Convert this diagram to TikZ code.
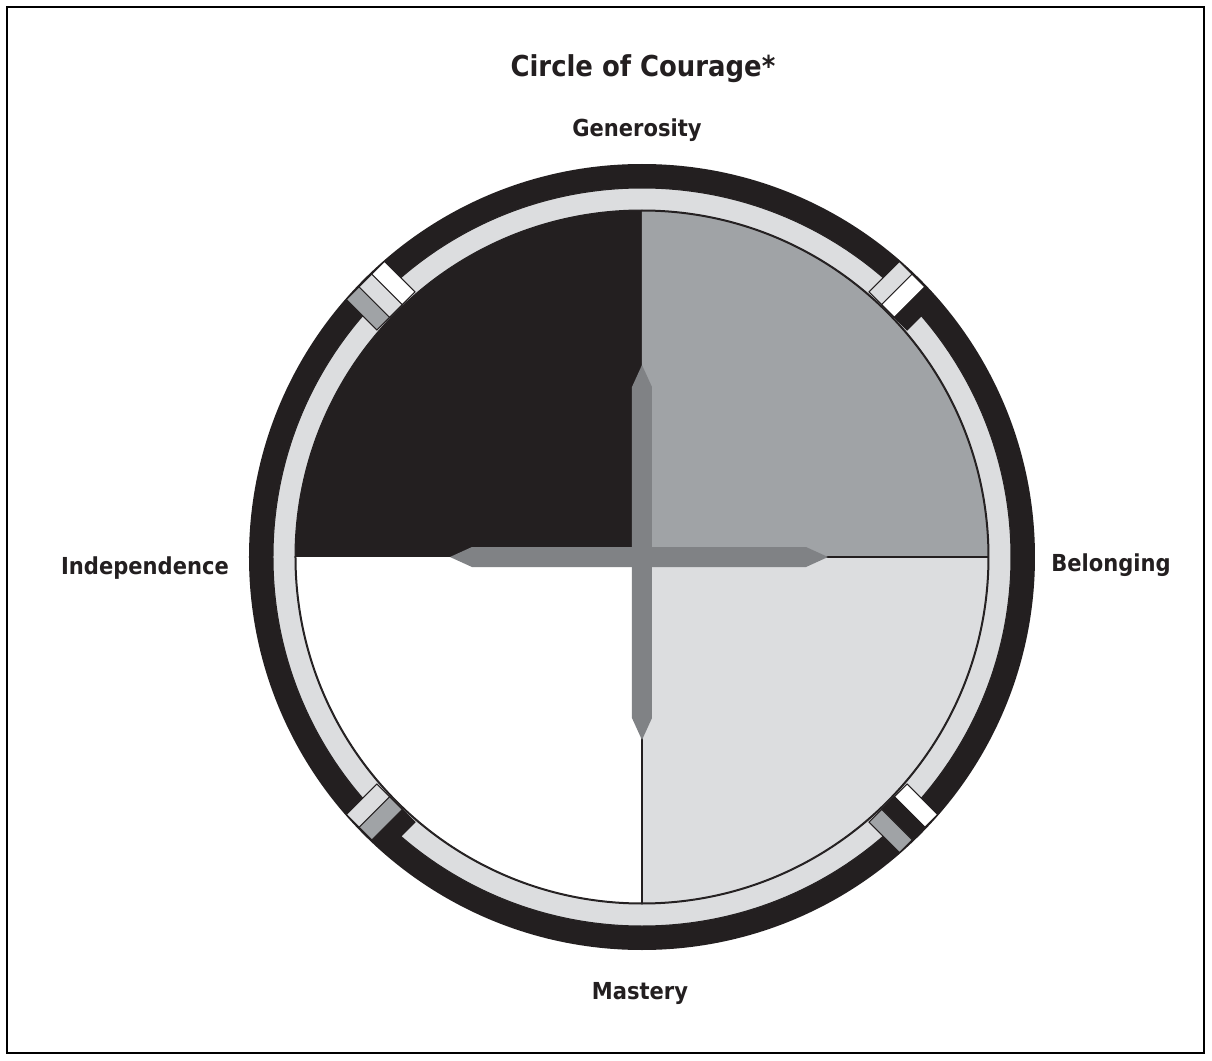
\documentclass[tikz,border=0pt]{standalone}
\usepackage{fontspec}
\newfontfamily\couragefont{DejaVu Sans Condensed}
\usepackage{xcolor}
\definecolor{cblack}{HTML}{231F20}
\definecolor{cgray}{HTML}{A0A3A6}
\definecolor{clight}{HTML}{DCDDDF}
\definecolor{ccross}{HTML}{808285}

\begin{document}
\begin{tikzpicture}[
    x=0.5pt, y=0.5pt,
    heading/.style={
        font=\couragefont\bfseries\fontsize{14.4}{17}\selectfont,
        text=cblack,
        inner sep=0pt,
        anchor=base
    },
    compass/.style={
        font=\couragefont\bfseries\fontsize{11.7}{14}\selectfont,
        text=cblack,
        inner sep=0pt,
        anchor=base
    },
    thinline/.style={draw=cblack, line width=0.5pt},
    divider/.style={draw=cblack, line width=1pt},
    block/.style={thinline}
]
    \useasboundingbox (-642,-504) rectangle (570,557);
    \draw[line width=0.6pt] (-635,-496) rectangle (562,550);

    \node[heading] (title) at (1,480) {Circle of Courage*};
    \node[compass] (gen) at (-5,420) {Generosity};
    \node[compass] (bel) at (469,-14) {Belonging};
    \node[compass] (mas) at (-2,-442) {Mastery};
    \node[compass] (ind) at (-497,-17) {Independence};

    \fill[cblack] (0,0) circle[radius=393];
    \filldraw[fill=clight, thinline, even odd rule]
        (0,0) circle[radius=369] (0,0) circle[radius=347];

    \fill[cblack] (0,0) -- (0,346) arc[start angle=90, end angle=180, radius=346] -- cycle;
    \fill[cgray] (0,0) -- (346,0) arc[start angle=0, end angle=90, radius=346] -- cycle;
    \fill[clight] (0,0) -- (0,-346) arc[start angle=270, end angle=360, radius=346] -- cycle;
    \fill[white] (0,0) -- (-346,0) arc[start angle=180, end angle=270, radius=346] -- cycle;
    \draw[thinline] (0,0) circle[radius=346];
    \draw[divider] (0,0) -- (346,0);
    \draw[divider] (0,0) -- (0,-346);

    \foreach \ang/\ca/\cb/\cc in {135/cgray/clight/white, 45/clight/white/cblack,
                                  -45/white/cblack/cgray, -135/cblack/cgray/clight}{
        \begin{scope}[rotate=\ang]
            \draw[block, fill=\ca] (348,9) rectangle (391,27);
            \draw[block, fill=\cb] (348,-9) rectangle (391,9);
            \draw[block, fill=\cc] (348,-27) rectangle (391,-9);
        \end{scope}
    }

    \fill[ccross] (-192,0) -- (-170,10) -- (164,10) -- (186,0) -- (164,-10) -- (-170,-10) -- cycle;
    \fill[ccross] (0,192) -- (10,170) -- (10,-161) -- (0,-183) -- (-10,-161) -- (-10,170) -- cycle;
\end{tikzpicture}
\end{document}
